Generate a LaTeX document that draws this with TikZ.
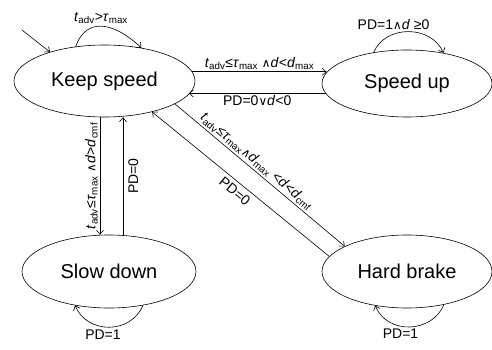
\documentclass[tikz,border=0pt]{standalone}
\usepackage{fontspec}
\setmainfont{Liberation Sans}
\newfontfamily\opsfont{DejaVu Sans}[Scale=0.85]
\usetikzlibrary{arrows.meta,shapes.geometric}
\newcommand{\tadv}{\textit{t}\textsubscript{adv}}
\newcommand{\taumax}{\textit{τ}\textsubscript{max}}
\newcommand{\dvar}{\textit{d}}
\newcommand{\dsub}[1]{\textit{d}\textsubscript{#1}}
\newcommand{\opand}{{\opsfont ∧}}
\newcommand{\opor}{{\opsfont ∨}}

\begin{document}
\begin{tikzpicture}[
  x=1pt,y=1pt,
  line cap=round,line join=round,
  >={Straight Barb[length=4pt,width=7pt]},
  state/.style={draw,ellipse,line width=0.6pt,inner sep=0pt,
    font=\fontsize{20}{24}\selectfont},
  trans/.style={draw,line width=0.6pt,->},
  lbl/.style={font=\fontsize{14}{17}\selectfont,inner sep=2pt}
]

\useasboundingbox (0,0) rectangle (492,349);

% the four states
\node[state,minimum width=181pt,minimum height=72pt] (keep) at (104.5,268) {Keep speed};
\node[state,minimum width=170pt,minimum height=67pt] (speed) at (407,265.5) {Speed up};
\node[state,minimum width=174pt,minimum height=73pt] (slow) at (109,77.5) {Slow down};
\node[state,minimum width=170pt,minimum height=73pt] (hard) at (407,77.5) {Hard brake};

% entry
\coordinate (entry) at (22,319);
\draw[trans] (entry) -- (keep.152);

% self loops
\draw[trans] (keep.130) .. controls +(10,28) and +(-30,28) .. (keep.42)
  node[lbl,pos=0.5,above] {\tadv>\taumax};
\draw[trans] (speed.137) .. controls +(12,28) and +(-12,28) .. (speed.40)
  node[lbl,pos=0.5,above,xshift=-15pt] {PD=1\opand\dvar\ ≥0};
\draw[trans] (slow.-45) .. controls +(-12,-29) and +(12,-29) .. (slow.-135)
  node[lbl,pos=0.5,below,xshift=-6pt] {PD=1};
\draw[trans] (hard.-42) .. controls +(-12,-29) and +(12,-29) .. (hard.-133)
  node[lbl,pos=0.5,below,xshift=-9pt] {PD=1};

% keep speed <-> speed up
\draw[trans] (keep.6) -- (keep.6 -| speed.172)
  node[lbl,midway,above] {\tadv≤\taumax\ \opand\dvar<\dsub{max}};
\draw[trans] (speed.187) -- (speed.187 -| keep.-9)
  node[lbl,midway,below] {PD=0\opor\dvar<0};

% keep speed <-> slow down
\draw[trans] ([xshift=-4.5pt]keep.south) -- ([xshift=-4.5pt]keep.south |- slow.north)
  node[lbl,midway,rotate=90,anchor=south] {\tadv≤\taumax\ \opand\dvar>\dsub{cmf}};
\draw[trans] ([xshift=14pt]slow.north) -- ([xshift=14pt]slow.north |- keep.south)
  node[lbl,midway,rotate=90,anchor=north,inner sep=5pt] {PD=0};

% keep speed <-> hard brake
\draw[trans] (keep.-18) -- (hard.158)
  node[lbl,pos=0.45,sloped,above] {\tadv≤\taumax\opand\dsub{max} <\dvar<\dsub{cmf}};
\draw[trans] (hard.169) -- (keep.-33)
  node[lbl,pos=0.5,sloped,below,inner sep=4pt] {PD=0};

\end{tikzpicture}
\end{document}
